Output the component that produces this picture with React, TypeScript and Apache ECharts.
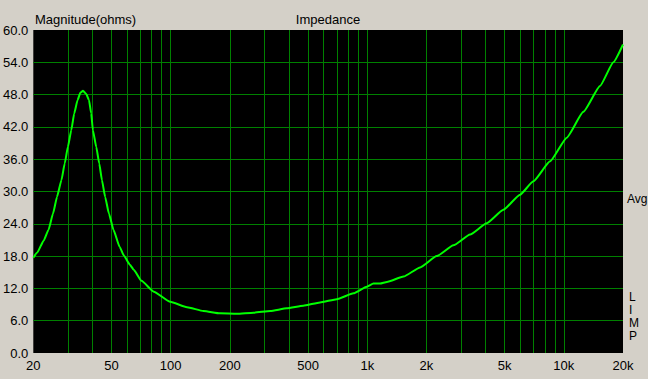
import React, { useEffect, useRef } from "react";
import * as echarts from "echarts";

// Frequency (Hz) and impedance magnitude (ohms)
const frequencies = [
  20, 20.9, 22.6, 23.9, 25.2, 26.4, 27.8, 28.9, 30.0, 31.2, 32.3, 33.6, 34.7, 35.8,
  37.2, 38.4, 39.4, 40.2, 41.8, 43.3, 44.7, 46.4, 48.5, 51.2, 55, 58, 62, 65,
  71, 82, 99.5, 121, 147, 178, 217, 264, 321, 390, 473, 575, 700, 851, 995, 1075,
  1162, 1259, 1529, 1858, 2258, 2743, 3334, 4053, 4924, 5985, 7000, 8511, 10350,
  12570, 15280, 17860, 20000,
];
const impedance = [
  17.7, 18.6, 20.9, 22.9, 25.9, 29.0, 32.1, 35.2, 38.3, 41.4, 44.5, 47.0, 48.35, 48.7,
  48.1, 47.0, 44.5, 41.4, 38.3, 35.2, 32.1, 29.0, 25.9, 22.85, 19.7, 18.0, 16.4, 15.4,
  13.4, 11.4, 9.5, 8.5, 7.8, 7.37, 7.3, 7.5, 7.8, 8.3, 8.8, 9.4, 10.0, 11.1, 12.3, 12.9,
  12.9, 13.2, 14.2, 15.9, 18.0, 20.0, 22.0, 24.1, 26.6, 29.4, 31.9, 35.6, 40.0,
  44.8, 49.6, 54.0, 57.3,
];

const gridFrequencies = [
  30, 40, 50, 60, 70, 80, 90, 100, 200, 300, 400, 500, 600, 700, 800, 900,
  1000, 2000, 3000, 4000, 5000, 6000, 7000, 8000, 9000, 10000,
];
const labelFrequencies = [20, 50, 100, 200, 500, 1000, 2000, 5000, 10000, 20000];
const yLabelValues = [0, 6, 12, 18, 24, 30, 36, 42, 48, 54, 60];
const yGridValues = [6, 12, 18, 24, 30, 36, 42, 48, 54];

const leftTitle = "Magnitude(ohms)";
const centerTitle = "Impedance";
const avgLabel = "Avg";
const sideLetters = ["L", "I", "M", "P"];

const FONT = "'Liberation Sans', Arial, sans-serif";

function formatFreq(v: number): string {
  const n = Math.round(Math.pow(10, v));
  if (n >= 1000) return n / 1000 + "k";
  return String(n);
}

export default function App() {
  const ref = useRef<HTMLDivElement>(null);

  useEffect(() => {
    document.body.style.margin = "0";
    if (!ref.current) return;
    const chart = echarts.init(ref.current, undefined, { renderer: "svg" });

    const gridColor = "#008000";
    const textStyle = { fill: "#000", fontSize: 13, fontFamily: FONT };
    const sideStyle = { fill: "#000", fontSize: 12, fontFamily: FONT, lineHeight: 12 };

    const graphic: any[] = [
      { type: "text", x: 35, y: 19, style: { ...textStyle, text: leftTitle, verticalAlign: "middle" } },
      { type: "text", x: 328, y: 19, style: { ...textStyle, text: centerTitle, align: "center", verticalAlign: "middle" } },
      { type: "text", x: 627, y: 199, style: { ...sideStyle, text: avgLabel, verticalAlign: "middle" } },
      ...sideLetters.map((t, i) => ({
        type: "text",
        x: 629,
        y: 297 + i * 13,
        style: { ...sideStyle, text: t, verticalAlign: "middle" },
      })),
    ];

    chart.setOption({
      animation: false,
      backgroundColor: "#d4d0c8",
      grid: {
        left: 33,
        top: 30,
        width: 590,
        height: 323,
        show: true,
        backgroundColor: "#000",
        borderWidth: 0,
      },
      xAxis: {
        type: "value",
        min: Math.log10(20),
        max: Math.log10(20000),
        axisLine: { show: false },
        axisTick: { show: false, customValues: gridFrequencies.map((f) => Math.log10(f)) },
        splitLine: { show: true, lineStyle: { color: gridColor, width: 1 } },
        axisLabel: {
          customValues: labelFrequencies.map((f) => Math.log10(f)),
          formatter: formatFreq,
          color: "#000",
          fontSize: 13,
          fontFamily: FONT,
          margin: 6,
        },
      },
      yAxis: {
        type: "value",
        min: 0,
        max: 60,
        interval: 6,
        axisLine: { show: false },
        axisTick: { show: false, customValues: yGridValues },
        splitLine: { show: true, lineStyle: { color: gridColor, width: 1 } },
        axisLabel: {
          customValues: yLabelValues,
          formatter: (v: number) => v.toFixed(1),
          color: "#000",
          fontSize: 13,
          fontFamily: FONT,
          margin: 5,
        },
      },
      series: [
        {
          type: "line",
          data: frequencies.map((f, i) => [Math.log10(f), impedance[i]]),
          showSymbol: false,
          smooth: 0.15,
          smoothMonotone: "x",
          lineStyle: { color: "#00ff00", width: 2 },
          z: 5,
        },
      ],
      graphic,
    });

    return () => chart.dispose();
  }, []);

  return (
    <div
      ref={ref}
      style={{ position: "absolute", left: 0, top: 0, width: 648, height: 379 }}
    />
  );
}
